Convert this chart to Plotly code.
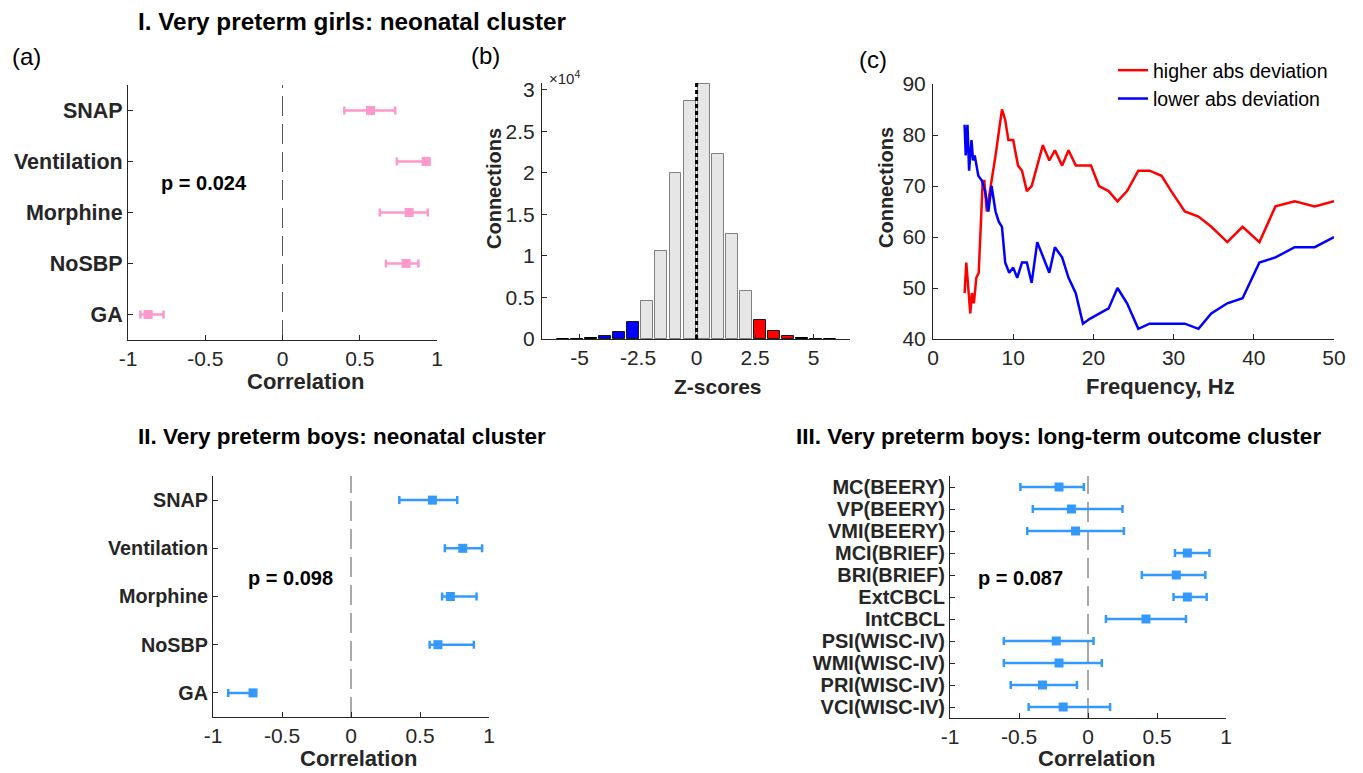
import plotly.graph_objects as go

W, H = 1363, 773
FONT = "Liberation Sans, Arial, Helvetica, sans-serif"
AX = "#262626"
PINK = "#ff99cc"
LBLUE = "#3399ff"

# ---------------- data ----------------
neo_labels = ["SNAP", "Ventilation", "Morphine", "NoSBP", "GA"]
girls_r = [0.57, 0.93, 0.82, 0.80, -0.87]
girls_lo = [0.40, 0.74, 0.63, 0.67, -0.92]
girls_hi = [0.73, 0.95, 0.94, 0.88, -0.77]

boys_r = [0.59, 0.81, 0.72, 0.63, -0.71]
boys_lo = [0.35, 0.68, 0.66, 0.57, -0.89]
boys_hi = [0.77, 0.95, 0.91, 0.89, -0.69]

out_labels = ["MC(BEERY)", "VP(BEERY)", "VMI(BEERY)", "MCI(BRIEF)", "BRI(BRIEF)",
              "ExtCBCL", "IntCBCL", "PSI(WISC-IV)", "WMI(WISC-IV)", "PRI(WISC-IV)",
              "VCI(WISC-IV)"]
out_r = [-0.21, -0.12, -0.09, 0.72, 0.64, 0.72, 0.42, -0.23, -0.21, -0.33, -0.18]
out_lo = [-0.49, -0.40, -0.44, 0.63, 0.39, 0.62, 0.13, -0.61, -0.61, -0.56, -0.43]
out_hi = [-0.03, 0.25, 0.26, 0.88, 0.85, 0.86, 0.71, 0.04, 0.10, -0.08, 0.16]

z_centers = [-5.7, -5.1, -4.5, -3.9, -3.3, -2.7, -2.1, -1.5, -0.9, -0.3,
             0.3, 0.9, 1.5, 2.1, 2.7, 3.3, 3.9, 4.5, 5.1, 5.7]
z_counts = [10, 30, 80, 380, 850, 2100, 4600, 10600, 20000, 28600,
            30700, 22300, 12600, 5800, 2300, 960, 370, 100, 50, 30]
z_group = ["tail", "tail", "tail", "low", "low", "low", "mid", "mid", "mid", "mid",
           "mid", "mid", "mid", "mid", "high", "high", "high", "tail", "tail", "tail"]

hi_freq = [3.94, 4.15, 4.65, 4.85, 5.1, 5.4, 5.7, 6.0, 6.2, 6.4, 6.7, 7.2, 7.8, 8.6,
           9.0, 9.4, 10.0, 10.6, 11.1, 11.7, 12.3, 13.7, 14.5, 15.2, 16.1, 16.9,
           17.8, 19.7, 20.7, 21.9, 23.0, 24.2, 25.6, 27.0, 28.5, 29.7, 31.4, 33.1,
           34.7, 36.7, 38.6, 40.7, 42.7, 45.1, 47.6, 50.0]
hi_conn = [49, 55, 45, 49, 47, 52, 53, 64, 71, 71, 65, 70, 76, 85,
           83, 79, 79, 74, 73, 69, 70, 78, 75, 77, 74, 77,
           74, 74, 70, 69, 67, 69, 73, 73, 72, 69, 65, 64,
           62, 59, 62, 59, 66, 67, 66, 67]

lo_freq = [3.94, 4.08, 4.3, 4.5, 4.8, 5.0, 5.2, 5.65, 6.1, 6.5, 6.9, 7.3, 7.8, 8.2,
           8.6, 9.0, 9.5, 10.0, 10.5, 11.1, 11.7, 12.3, 13.0, 13.8, 14.5, 15.2,
           16.1, 16.9, 17.8, 18.7, 19.6, 21.9, 23.0, 24.2, 25.6, 27.0, 31.4, 33.1,
           34.7, 36.7, 38.6, 40.7, 42.7, 45.1, 47.6, 50.0]
lo_conn = [82, 76, 82, 73, 79, 75, 76, 72, 71, 69, 65, 70, 65, 63,
           62, 55, 53, 54, 52, 55, 55, 51, 59, 56, 53, 58,
           56, 52, 49, 43, 44, 46, 50, 47, 42, 43, 43, 42,
           45, 47, 48, 55, 56, 58, 58, 60]

# ---------------- helpers ----------------
def px(x):
    return x / W

def py(y):
    return 1 - y / H

fig = go.Figure()

def err_trace(vals, lo, hi, labels, color, xa, ya):
    return go.Scatter(
        x=vals, y=labels, mode="markers", xaxis=xa, yaxis=ya, showlegend=False,
        marker=dict(symbol="square", size=9, color=color),
        error_x=dict(type="data", symmetric=False,
                     array=[h - v for h, v in zip(hi, vals)],
                     arrayminus=[v - l for v, l in zip(vals, lo)],
                     color=color, thickness=2.5, width=4),
    )

fig.add_trace(err_trace(girls_r, girls_lo, girls_hi, neo_labels, PINK, "x", "y"))

bar_colors = {"tail": "#000000", "low": "#0000ff", "mid": "#e6e6e6", "high": "#ff0000"}
line_colors = {"tail": "#000000", "low": "#1a1a1a", "mid": "#808080", "high": "#1a1a1a"}
fig.add_trace(go.Bar(
    x=z_centers, y=z_counts, xaxis="x2", yaxis="y2", showlegend=False, width=0.51,
    marker=dict(color=[bar_colors[g] for g in z_group],
                line=dict(color=[line_colors[g] for g in z_group], width=1)),
))

fig.add_trace(go.Scatter(x=hi_freq, y=hi_conn, mode="lines", xaxis="x3", yaxis="y3",
                         name="higher abs deviation", line=dict(color="#ff0000", width=2.5)))
fig.add_trace(go.Scatter(x=lo_freq, y=lo_conn, mode="lines", xaxis="x3", yaxis="y3",
                         name="lower abs deviation", line=dict(color="#0000ff", width=2.5)))

fig.add_trace(err_trace(boys_r, boys_lo, boys_hi, neo_labels, LBLUE, "x4", "y4"))
fig.add_trace(err_trace(out_r, out_lo, out_hi, out_labels, LBLUE, "x5", "y5"))

tickfont = dict(family=FONT, size=21, color=AX)

def xax(x0, x1, rng, tv, tt, anchor):
    return dict(domain=[px(x0), px(x1)], range=rng, tickmode="array", tickvals=tv, ticktext=tt,
                ticks="inside", ticklen=5, tickcolor=AX, showline=True, linecolor=AX,
                linewidth=1, showgrid=False, zeroline=False, anchor=anchor,
                tickfont=tickfont, mirror=False, fixedrange=True, automargin=False)

def yax_num(y0, y1, rng, tv, tt, anchor):
    return dict(domain=[py(y1), py(y0)], range=rng, tickmode="array", tickvals=tv, ticktext=tt,
                ticks="inside", ticklen=5, tickcolor=AX, showline=True, linecolor=AX,
                linewidth=1, showgrid=False, zeroline=False, anchor=anchor,
                tickfont=tickfont, fixedrange=True, automargin=False, ticklabelstandoff=2)

def yax_cat(y0, y1, labels, anchor, size=21.5):
    return dict(domain=[py(y1), py(y0)], type="category", categoryorder="array",
                categoryarray=labels, range=[len(labels) - 0.5, -0.5],
                tickmode="array", tickvals=labels, ticktext=labels,
                ticks="inside", ticklen=5, tickcolor=AX, showline=True, linecolor=AX,
                linewidth=1, showgrid=False, zeroline=False, anchor=anchor,
                tickfont=dict(family=FONT, size=size, color=AX, weight="bold"),
                fixedrange=True, automargin=False, ticklabelstandoff=0)

corr_tv = [-1, -0.5, 0, 0.5, 1]
corr_tt = ["-1", "-0.5", "0", "0.5", "1"]

fig.update_layout(
    width=W, height=H, margin=dict(l=0, r=0, t=0, b=0, pad=0, autoexpand=False),
    paper_bgcolor="white", plot_bgcolor="white",
    font=dict(family=FONT, color="#000000"),
    xaxis=xax(128, 437, [-1, 1], corr_tv, corr_tt, "y"),
    yaxis=yax_cat(85, 340, neo_labels, "x"),
    xaxis2=xax(542, 850, [-6.6, 6.55], [-5, -2.5, 0, 2.5, 5],
               ["-5", "-2.5", "0", "2.5", "5"], "y2"),
    yaxis2=yax_num(83, 339, [0, 30800], [0, 5000, 10000, 15000, 20000, 25000, 30000],
                   ["0", "0.5", "1", "1.5", "2", "2.5", "3"], "x2"),
    xaxis3=xax(933, 1334, [0, 50], [0, 10, 20, 30, 40, 50],
               ["0", "10", "20", "30", "40", "50"], "y3"),
    yaxis3=yax_num(84, 339, [40, 90], [40, 50, 60, 70, 80, 90],
                   ["40", "50", "60", "70", "80", "90"], "x3"),
    xaxis4=xax(213, 489, [-1, 1], corr_tv, corr_tt, "y4"),
    yaxis4=yax_cat(476, 717, neo_labels, "x4", size=19.8),
    xaxis5=xax(950, 1226, [-1, 1], corr_tv, corr_tt, "y5"),
    yaxis5=yax_cat(476, 718, out_labels, "x5", size=20),
    bargap=0,
    legend=dict(x=px(1113), y=py(51), xanchor="left", yanchor="top",
                bgcolor="rgba(0,0,0,0)", font=dict(family=FONT, size=19.5, color="#000000"),
                tracegroupgap=0),
    showlegend=True,
)

# zero lines
shapes = []
for xa, ya in [("x", "y"), ("x4", "y4"), ("x5", "y5")]:
    shapes.append(dict(type="line", xref=xa, yref=ya + " domain", x0=0, x1=0, y0=0, y1=1,
                       line=dict(color="#555555", width=1, dash="20px,8px"), layer="below"))
shapes.append(dict(type="line", xref="x2", yref="y2", x0=0, x1=0, y0=0, y1=31000,
                   line=dict(color="#000000", width=3, dash="4px,3px")))
fig.update_layout(shapes=shapes)

def ann(text, x, y, size, bold=False, xanchor="center", angle=0, color="#000000"):
    fig.add_annotation(text=("<b>%s</b>" % text) if bold else text,
                       x=px(x), y=py(y), xref="paper", yref="paper",
                       xanchor=xanchor, yanchor="middle", showarrow=False,
                       textangle=angle, font=dict(family=FONT, size=size, color=color))

ann("I. Very preterm girls: neonatal cluster", 136, 21, 24.3, True, "left")
ann("II. Very preterm boys: neonatal cluster", 136, 436, 22.5, True, "left")
ann("III. Very preterm boys: long-term outcome cluster", 794, 436, 22.5, True, "left")
ann("(a)", 26, 57, 24)
ann("(b)", 486, 55, 24)
ann("(c)", 873, 59, 24)
ann("×10<sup>4</sup>", 564, 77, 15, color=AX)
ann("p = 0.024", 204, 183, 20, True)
ann("p = 0.098", 290, 578, 20, True)
ann("p = 0.087", 1020, 578, 20, True)
ann("Correlation", 305, 382, 22, True, color=AX)
ann("Correlation", 359, 758, 22, True, color=AX)
ann("Correlation", 1096, 758, 22, True, color=AX)
ann("Z-scores", 718, 386, 21, True, color=AX)
ann("Frequency, Hz", 1160, 386, 22, True, color=AX)
ann("Connections", 494, 189, 20, True, angle=-90, color=AX)
ann("Connections", 886, 188, 20, True, angle=-90, color=AX)

fig.write_html("out.html")
